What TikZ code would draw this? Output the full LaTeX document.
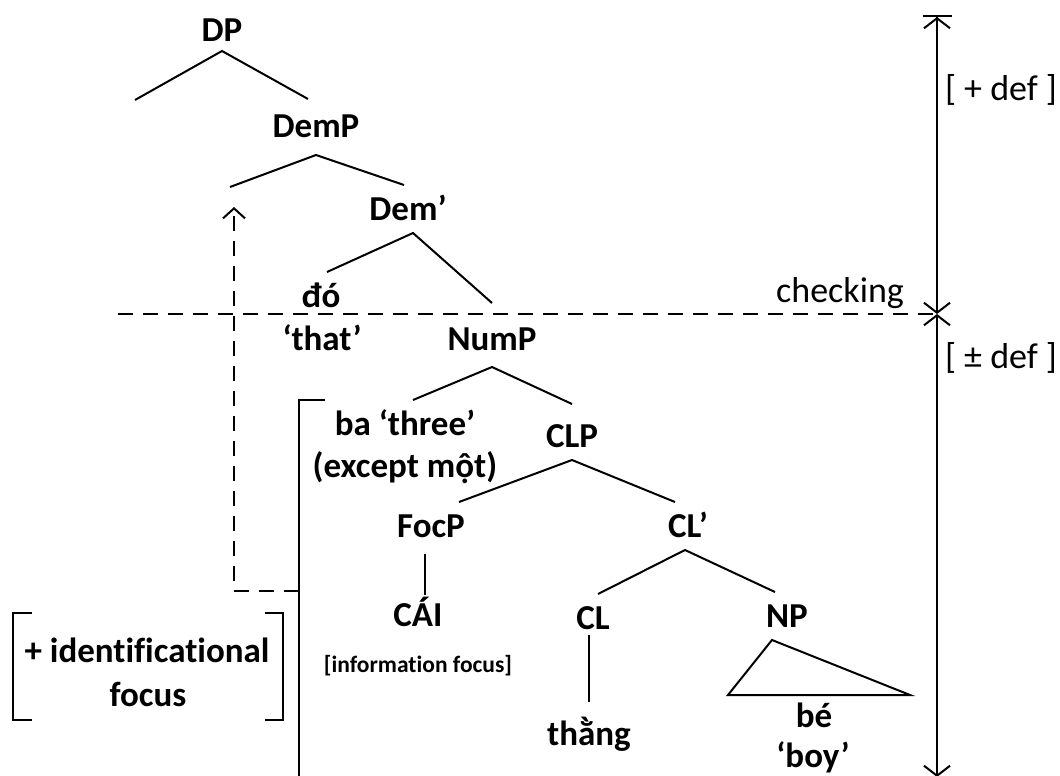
\documentclass[tikz,border=0pt]{standalone}
\usepackage{fontspec}
\setmainfont[Ligatures=CommonOff]{Carlito}
\usetikzlibrary{arrows.meta,positioning}

\tikzset{barb/.tip={Straight Barb[length=10pt,width=26pt,line width=2pt]}}

\begin{document}
\begin{tikzpicture}[x=1pt,y=-1pt,line width=2pt,
	lbl/.style={font=\fontsize{35}{40}\selectfont\bfseries,anchor=base,inner sep=4pt,text height=30pt,text depth=8pt},
	small/.style={font=\fontsize{23.5}{26}\selectfont\bfseries,anchor=base,inner sep=0pt},
	plain/.style={font=\fontsize{36}{40}\selectfont,anchor=base,inner sep=0pt},
	move/.style={dashed,dash pattern=on 15pt off 10pt}]
	\useasboundingbox (0,0) rectangle (1060,776);
	% tree
	\node[lbl] (DP) at (222,42) {DP};
	\node[lbl] (DemP) at (316,137) {DemP};
	\node[lbl] (Demb) at (408,220) {Dem’};
	\node[lbl] (do) at (321,307) {đó};
	\node[lbl] (that) at (322,350) {‘that’};
	\node[lbl] (NumP) at (492,350) {NumP};
	\node[lbl] (ba) at (405,435) {ba ‘three’};
	\node[lbl] (mot) at (405,477) {(except một)};
	\node[lbl] (CLP) at (572,447) {CLP};
	\node[lbl] (FocP) at (431,537) {FocP};
	\node[lbl] (CLb) at (688,537) {CL’};
	\node[lbl] (CAI) at (418,626) {CÁI};
	\node[small] (info) at (418,672) {[information focus]};
	\node[lbl] (CL) at (593,629) {CL};
	\node[lbl] (thang) at (589,745) {thằng};
	\node[lbl] (NP) at (787,627) {NP};
	\node[lbl] (be) at (814,727) {bé};
	\node[lbl] (boy) at (813,767) {‘boy’};
	\coordinate (dpL) at (135,100);
	\coordinate (dmL) at (230,187);
	\coordinate (triL) at (728,695);
	\coordinate (triR) at (910,695);

	\draw (dpL) -- ([yshift=4pt]DP.south) -- ([xshift=-8pt,yshift=3pt]DemP.north);
	\draw (dmL) -- ([yshift=-5pt]DemP.south) -- ([xshift=-4pt]Demb.north);
	\draw ([xshift=6pt]do.north) -- ([xshift=5pt]Demb.south) -- ([yshift=12pt]NumP.north);
	\draw ([xshift=8pt]ba.north) -- ([yshift=-4pt]NumP.south) -- ([yshift=8pt]CLP.north);
	\draw ([xshift=28pt]FocP.north) -- (CLP.south) -- ([xshift=-13pt]CLb.north);
	\draw ([xshift=5pt]CL.north) -- ([xshift=-3pt]CLb.south) -- ([xshift=-12pt]NP.north);
	\draw ([xshift=-6pt,yshift=-4pt]FocP.south) -- ([xshift=7pt,yshift=-4pt]CAI.north);
	\draw ([yshift=7pt]CL.south -| thang.north) -- ([yshift=8pt]thang.north);
	\draw ([xshift=-15pt]NP.south) -- (triL) -- (triR) -- cycle;

	% movement and checking
	\coordinate (brT) at (299,400);
	\coordinate (brB) at (299,780);
	\coordinate (brM) at (299,591);
	\coordinate (mvC) at (234,591);
	\coordinate (mvT) at (234,207);
	\draw (325,400) -- (brT) -- (brB);
	\draw[move,-{Straight Barb[length=10pt,width=22pt,line width=2pt]}] (brM) -- (mvC) -- (mvT);
	\coordinate (chkL) at (118,314);
	\coordinate (chkR) at (934,314);
	\draw[move] (chkL) -- (chkR);
	\node[plain] (chk) at (840,302) {checking};

	% definiteness
	\coordinate (defT) at (937,15);
	\coordinate (defM) at (937,314);
	\coordinate (defB) at (937,777);
	\draw[{Bar[width=29pt,line width=2pt]barb}-{barb}] (defT) -- (defM);
	\draw[{barb}-{barb}] (defM) -- (defB);
	\node[plain] (plus) at (1001,100) {[ + def ]};
	\node[plain] (pm) at (1001,368) {[ ± def ]};

	% focus bracket
	\node[lbl] (idf) at (147,662) {+ identificational};
	\node[lbl] (foc) at (148,706) {focus};
	\draw (32,613) -- (13,613) -- (13,720) -- (32,720);
	\draw (265,613) -- (283,613) -- (283,720) -- (265,720);
\end{tikzpicture}
\end{document}
